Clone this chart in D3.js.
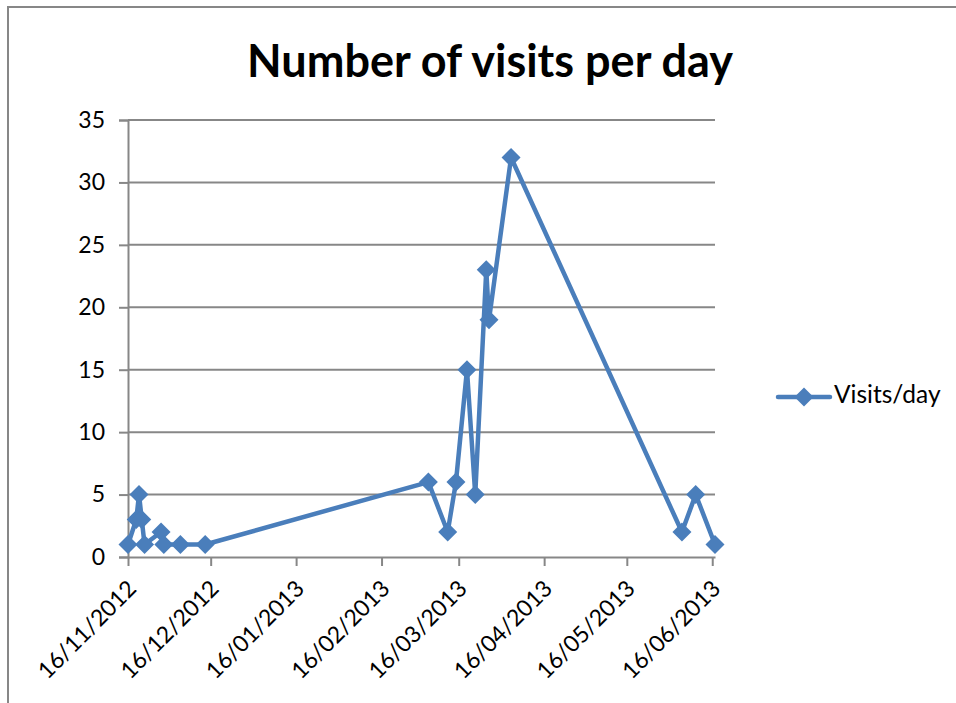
<!DOCTYPE html>
<html>
<head>
<meta charset="utf-8">
<script src="https://cdn.jsdelivr.net/npm/d3@7"></script>
<style>
  html, body { margin: 0; padding: 0; background: #fff; }
  svg { display: block; }
  text { font-family: Lato, "Open Sans", sans-serif; fill: #000; }
</style>
</head>
<body>
<svg id="chart" width="956" height="703"></svg>
<script>
// ---- data ----
const dates = ["2012-11-16","2012-11-19","2012-11-20","2012-11-21","2012-11-22","2012-11-28","2012-11-29","2012-12-05","2012-12-14",
               "2013-03-05","2013-03-12","2013-03-15","2013-03-19","2013-03-22","2013-03-26","2013-03-27","2013-04-04",
               "2013-06-05","2013-06-10","2013-06-17"];
const visits = [1,3,5,3,1,2,1,1,1,6,2,6,15,5,23,19,32,2,5,1];
const yTicks = [0,5,10,15,20,25,30,35];
const xTickDates = ["2012-11-16","2012-12-16","2013-01-16","2013-02-16","2013-03-16","2013-04-16","2013-05-16","2013-06-16"];
const xDomain = ["2012-11-16","2013-06-17"];
const title = "Number of visits per day";
const seriesName = "Visits/day";

const parse = d3.utcParse("%Y-%m-%d");
const fmt = d3.utcFormat("%d/%m/%Y");
const data = dates.map((d, i) => ({ date: parse(d), value: visits[i] }));

const svg = d3.select("#chart");
const color = "#4a7ebb";
const grid = "#878787";

// outer border (chart area frame)
svg.append("rect").attr("x", 8).attr("y", 7).attr("width", 1000).attr("height", 800)
  .attr("fill", "#fff").attr("stroke", grid).attr("stroke-width", 2);

const x = d3.scaleUtc().domain(xDomain.map(parse)).range([128, 715]);
const y = d3.scaleLinear().domain([0, 35]).range([557, 120]);

// title
svg.append("text").attr("x", 490).attr("y", 77).attr("text-anchor", "middle")
  .style("font-weight", "bold").style("font-size", "45px").text(title);

// gridlines
svg.append("g").selectAll("line").data(yTicks.filter(v => v > 0)).join("line")
  .attr("x1", x.range()[0]).attr("x2", x.range()[1])
  .attr("y1", d => y(d)).attr("y2", d => y(d))
  .attr("stroke", grid).attr("stroke-width", 2);

// y axis
const yAxis = svg.append("g").attr("transform", `translate(${x.range()[0]},0)`)
  .call(d3.axisLeft(y).tickValues(yTicks).tickSize(9).tickPadding(14));
yAxis.select(".domain").attr("stroke", grid).attr("stroke-width", 2);
yAxis.selectAll(".tick line").attr("stroke", grid).attr("stroke-width", 2);
yAxis.selectAll(".tick text").style("font-size", "23px").style("font-family", "Lato, sans-serif");

// x axis
const xAxis = svg.append("g").attr("transform", `translate(0,${y(0)})`)
  .call(d3.axisBottom(x).tickValues(xTickDates.map(parse)).tickFormat(fmt).tickSize(9).tickSizeOuter(0));
xAxis.select(".domain").attr("stroke", grid).attr("stroke-width", 2);
xAxis.selectAll(".tick line").attr("stroke", grid).attr("stroke-width", 2);
xAxis.selectAll(".tick text")
  .style("font-size", "23px").style("font-family", "Lato, sans-serif")
  .attr("text-anchor", "end").attr("dy", null).attr("y", null)
  .attr("transform", "translate(5,29) rotate(-45)")
  .attr("dominant-baseline", "middle");

// line
const line = d3.line().x(d => x(d.date)).y(d => y(d.value));
svg.append("path").datum(data).attr("d", line)
  .attr("fill", "none").attr("stroke", color).attr("stroke-width", 4.5)
  .attr("stroke-linejoin", "round");

const diamond = "M0,-9.5L9.5,0L0,9.5L-9.5,0Z";
svg.append("g").selectAll("path").data(data).join("path")
  .attr("d", diamond)
  .attr("transform", d => `translate(${x(d.date)},${y(d.value)})`)
  .attr("fill", color);

// legend
const lg = svg.append("g").attr("transform", "translate(778,397)");
lg.append("line").attr("x1", 0).attr("x2", 52).attr("y1", 0).attr("y2", 0)
  .attr("stroke", color).attr("stroke-width", 4.5).attr("stroke-linecap", "round");
lg.append("path").attr("d", diamond).attr("transform", "translate(26,0)").attr("fill", color);
lg.append("text").attr("x", 56).attr("y", 0).attr("dominant-baseline", "middle")
  .style("font-size", "24.5px").text(seriesName);
</script>
</body>
</html>
